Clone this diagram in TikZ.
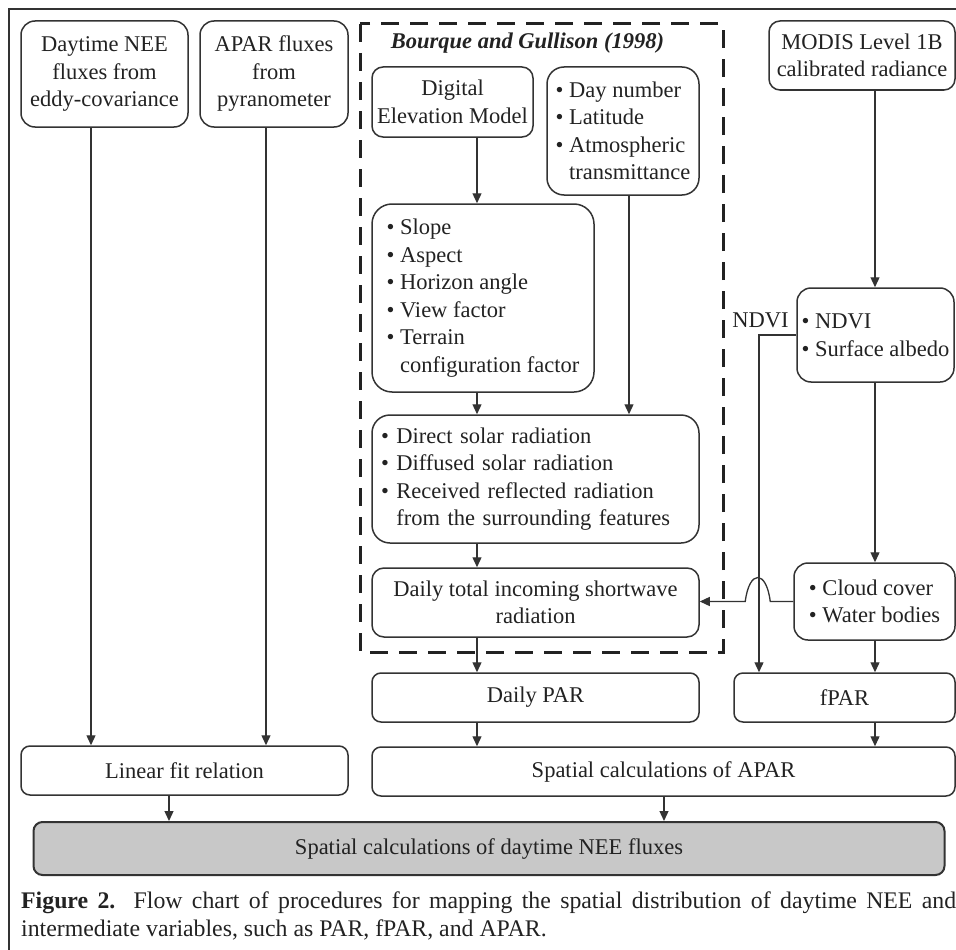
\documentclass[tikz,border=0pt]{standalone}
\usepackage{fontspec}
\setmainfont{Liberation Serif}
\usepackage{xcolor}
\usetikzlibrary{arrows.meta}
\definecolor{fcline}{RGB}{51, 51, 51}
\definecolor{fctext}{RGB}{34, 34, 34}
\definecolor{fcgray}{RGB}{200, 200, 200}
\tikzset{
    fcbox/.style={draw=fcline, line width=1.5pt, rounded corners=14pt, align=center, inner sep=0pt, text=fctext},
    flatbox/.style={fcbox, rounded corners=9pt},
    listbox/.style={fcbox, align=left},
    resultbox/.style={flatbox, fill=fcgray, line width=2pt},
    fcarrow/.style={draw=fcline, line width=1.3pt, -{Triangle[length=10pt, width=9pt]}},
    fcframe/.style={draw=fcline, line width=1.5pt},
    gullison/.style={draw=fctext, line width=3pt, dash pattern=on 18pt off 11pt}
}

\begin{document}
\begin{tikzpicture}[x=1pt, y=-1pt, font=\fontsize{22.5}{27.5}\selectfont]
    \useasboundingbox (0,0) rectangle (956,950);
    \draw[fcframe] (956,9) -- (9,9) -- (9,950);

    % columns of the connectors
    \coordinate (c1) at (91,0);
    \coordinate (c2) at (266,0);
    \coordinate (c3) at (477,0);
    \coordinate (c4) at (629,0);
    \coordinate (c5) at (875,0);
    \coordinate (c6) at (759,0);
    \coordinate (c7) at (169,0);
    \coordinate (c8) at (664,0);

    % Bourque and Gullison (1998)
    \draw[gullison] (360,24) rectangle (723,652);
    \node[text=fctext, font=\fontsize{22.5}{27.5}\selectfont\bfseries\itshape] (bgtitle) at (527.5,43) {Bourque and Gullison (1998)};

    \node[fcbox, minimum width=167, minimum height=106] (nee) at (104.5,74) {Daytime NEE\\fluxes from\\eddy-covariance};
    \node[fcbox, minimum width=148, minimum height=106] (aparflux) at (274,74) {APAR fluxes\\from\\pyranometer};
    \node[fcbox, rounded corners=11pt, minimum width=161, minimum height=70] (dem) at (452.5,102) {Digital\\Elevation Model};
    \node[listbox, rounded corners=17pt, minimum width=152, minimum height=128] (day) at (623,131)
        {\textbullet\ Day number\\\textbullet\ Latitude\\\textbullet\ Atmospheric\\\hphantom{\textbullet\ }transmittance};
    \node[listbox, rounded corners=20pt, minimum width=222, minimum height=188] (terrain) at (483,298)
        {\textbullet\ Slope\\\textbullet\ Aspect\\\textbullet\ Horizon angle\\\textbullet\ View factor\\\textbullet\ Terrain\\\hphantom{\textbullet\ }configuration factor};
    \node[listbox, rounded corners=18pt, text width=309, inner xsep=9pt, minimum height=128] (solar) at (535.5,479)
        {\textbullet\ Direct solar radiation\\\textbullet\ Diffused solar radiation\\\textbullet\ Received reflected radiation\\\hphantom{\textbullet\ }from the surrounding features};
    \node[fcbox, rounded corners=12pt, minimum width=327, minimum height=69] (dailytotal) at (535.5,602.5) {Daily total incoming shortwave\\radiation};

    \node[fcbox, rounded corners=11pt, minimum width=186, minimum height=69] (modis) at (862,55.5) {MODIS Level 1B\\calibrated radiance};
    \node[listbox, minimum width=157, minimum height=94] (ndvi) at (875.5,335) {\textbullet\ NDVI\\\textbullet\ Surface albedo};
    \node[text=fctext] (ndvilabel) at (760.5,320) {NDVI};
    \node[listbox, minimum width=161, minimum height=77] (cloud) at (874.5,601.5) {\textbullet\ Cloud cover\\\textbullet\ Water bodies};

    \node[flatbox, minimum width=327, minimum height=49] (dailypar) at (535.5,697.5) {Daily PAR};
    \node[flatbox, minimum width=221, minimum height=49] (fpar) at (844.5,697.5) {fPAR};
    \node[flatbox, minimum width=327, minimum height=49] (linfit) at (184.5,770.5) {Linear fit relation};
    \node[flatbox, minimum width=583, minimum height=49] (aparcalc) at (663.5,771.5) {Spatial calculations of APAR};
    \node[resultbox, minimum width=911, minimum height=53] (neecalc) at (489,848.5) {Spatial calculations of daytime NEE fluxes};

    \node[anchor=north west, inner sep=0pt, text=fctext, align=left, font=\fontsize{23.8}{28}\selectfont] (caption) at (21,892)
        {\makebox[935pt][s]{\textbf{Figure 2.} Flow chart of procedures for mapping the spatial distribution of daytime NEE and}\\
         intermediate variables, such as PAR, fPAR, and APAR.};

    % connectors
    \draw[fcarrow] (nee.south -| c1) -- (linfit.north -| c1);
    \draw[fcarrow] (aparflux.south -| c2) -- (linfit.north -| c2);
    \draw[fcarrow] (dem.south -| c3) -- (terrain.north -| c3);
    \draw[fcarrow] (terrain.south -| c3) -- (solar.north -| c3);
    \draw[fcarrow] (day.south -| c4) -- (solar.north -| c4);
    \draw[fcarrow] (solar.south -| c3) -- (dailytotal.north -| c3);
    \draw[fcarrow] (dailytotal.south -| c3) -- (dailypar.north -| c3);
    \draw[fcarrow] (dailypar.south -| c3) -- (aparcalc.north -| c3);
    \draw[fcarrow] (modis.south -| c5) -- (ndvi.north -| c5);
    \draw[fcarrow] (ndvi.south -| c5) -- (cloud.north -| c5);
    \draw[fcarrow] (cloud.south -| c5) -- (fpar.north -| c5);
    \draw[fcarrow] (fpar.south -| c5) -- (aparcalc.north -| c5);
    \draw[fcarrow] (ndvi.west) -| (fpar.north -| c6);
    \draw[fcarrow] (cloud.west) -- ++(-23,0) .. controls +(-4,-32) and +(4,-32) .. ++(-25,0) -- (dailytotal.east |- cloud.west);
    \draw[fcarrow] (linfit.south -| c7) -- (neecalc.north -| c7);
    \draw[fcarrow] (aparcalc.south -| c8) -- (neecalc.north -| c8);
\end{tikzpicture}
\end{document}
